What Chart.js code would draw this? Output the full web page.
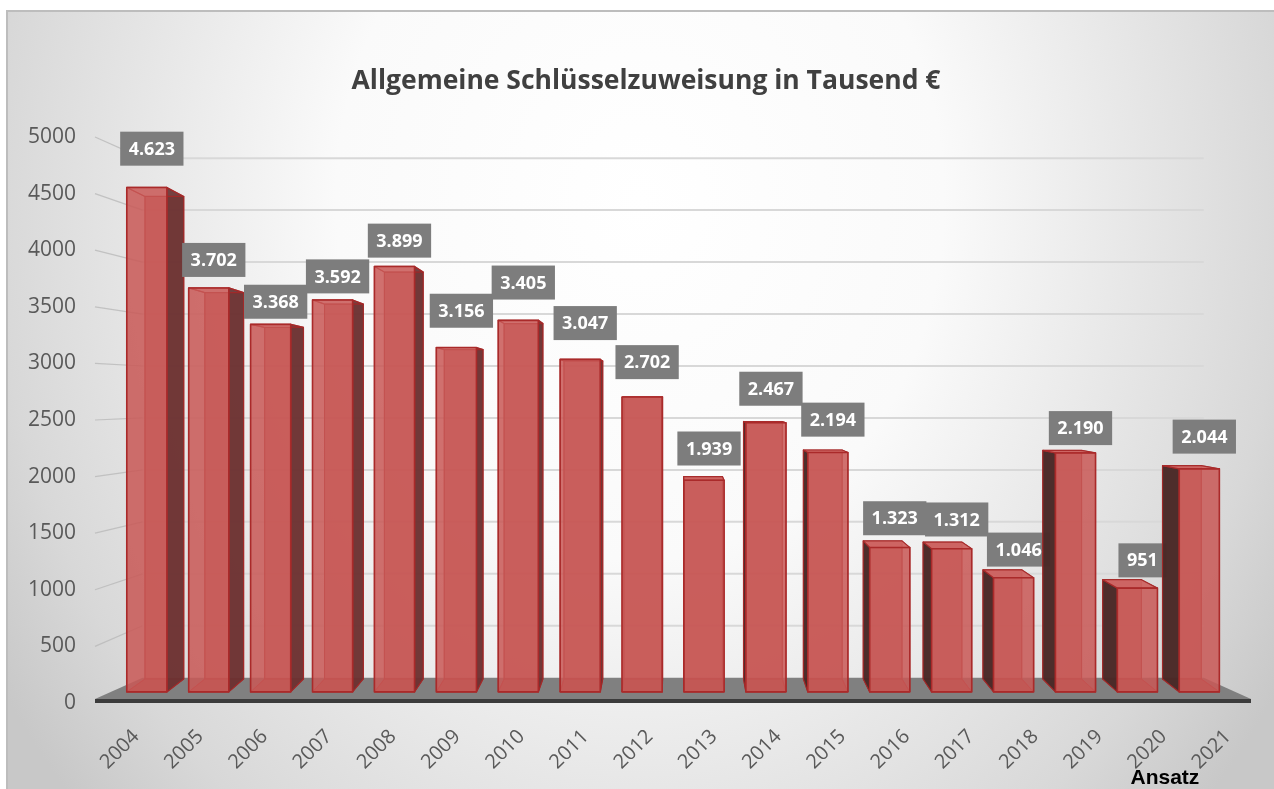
<!DOCTYPE html>
<html><head><meta charset="utf-8">
<script src="https://cdn.jsdelivr.net/npm/chart.js@4.4.1/dist/chart.umd.min.js"></script>
<style>html,body{margin:0;padding:0;background:#fff;}#wrap{width:1274px;height:789px;}</style>
</head><body><div id="wrap"><canvas id="c" width="1274" height="789"></canvas></div>
<script>
// ---- data ----
const years = ['2004','2005','2006','2007','2008','2009','2010','2011','2012','2013','2014','2015','2016','2017','2018','2019','2020','2021'];
const values = [4623,3702,3368,3592,3899,3156,3405,3047,2702,1939,2467,2194,1323,1312,1046,2190,951,2044];
const yMin = 0, yMax = 5000, yStep = 500;
const titleText = 'Allgemeine Schlüsselzuweisung in Tausend €';
const noteText = 'Ansatz';
const noteYear = '2021';

// ---- styling / projection ----
const labelNudge = {'2004':4,'2005':11,'2006':15,'2007':15,'2008':14,'2019':8};
const VX = 675, VY = 395, SF = 0.036, SBX = 0.068, SBY = 0.078, SW = 0.082;
function P(x, y, sx, sy) { return [x + (VX - x) * sx, y + (VY - y) * sy]; }
function poly(ctx, pts, fill, stroke, lw) {
  ctx.beginPath(); ctx.moveTo(pts[0][0], pts[0][1]);
  for (let i = 1; i < pts.length; i++) ctx.lineTo(pts[i][0], pts[i][1]);
  ctx.closePath();
  if (fill) { ctx.fillStyle = fill; ctx.fill(); }
  if (stroke) { ctx.strokeStyle = stroke; ctx.lineWidth = lw || 1; ctx.stroke(); }
}
function fmt(v) { const s = String(v); return s.length > 3 ? s.slice(0, -3) + '.' + s.slice(-3) : s; }

const scene = {
  id: 'scene',
  beforeDraw(chart) {
    const { ctx, width, height } = chart;
    ctx.save();
    ctx.fillStyle = '#fff'; ctx.fillRect(0, 0, width, height);
    ctx.save();
    ctx.beginPath(); ctx.rect(7, 11, width - 7, height - 11); ctx.clip();
    ctx.translate(640, 200); ctx.scale(760 / 900, 1);
    const g = ctx.createRadialGradient(0, 0, 0, 0, 0, 900);
    g.addColorStop(0, '#ffffff'); g.addColorStop(0.4, '#fafafa');
    g.addColorStop(0.85, '#d8d8d8'); g.addColorStop(1, '#c8c8c8');
    ctx.fillStyle = g; ctx.fillRect(-2000, -2000, 4000, 4000);
    ctx.restore();
    ctx.strokeStyle = '#bdbdbd'; ctx.lineWidth = 2;
    ctx.beginPath(); ctx.moveTo(7, height); ctx.lineTo(7, 11); ctx.lineTo(width, 11); ctx.stroke();
    // title
    ctx.font = 'bold 26.5px "Open Sans"';
    ctx.fillStyle = '#404040'; ctx.textAlign = 'center'; ctx.textBaseline = 'middle';
    ctx.fillText(titleText, 646, 81);
    ctx.restore();
  },
  beforeDatasetsDraw(chart) {
    const { ctx, chartArea: a, scales: { y } } = chart;
    ctx.save();
    y.ticks.forEach(t => {
      if (t.value === 0) return;
      const yy = y.getPixelForValue(t.value);
      const bl = P(a.left, yy, SW, SW), br = P(a.right, yy, SW, SW);
      ctx.strokeStyle = '#d8d8d8'; ctx.lineWidth = 2;
      ctx.beginPath(); ctx.moveTo(bl[0], bl[1]); ctx.lineTo(br[0], br[1]); ctx.stroke();
      ctx.strokeStyle = 'rgba(185,185,185,0.8)'; ctx.lineWidth = 1.2;
      ctx.beginPath(); ctx.moveTo(a.left, yy); ctx.lineTo(bl[0], bl[1]); ctx.stroke();
    });
    const y0 = y.getPixelForValue(0);
    const BL = P(a.left, y0, SW, SW), BR = P(a.right, y0, SW, SW);
    poly(ctx, [[a.left, y0 - 4], [a.right, y0 - 4], BR, BL], '#808080');
    poly(ctx, [[a.left, y0 - 4], [a.right, y0 - 4], [a.right, y0], [a.left, y0]], '#3c3c3c');
    ctx.restore();
  },
  afterDatasetsDraw(chart) {
    const { ctx, scales: { x } } = chart;
    const meta = chart.getDatasetMeta(0);
    ctx.save();
    ctx.lineJoin = 'round';
    meta.data.forEach((el, i) => {
      const p = el.getProps(['x', 'y', 'base', 'width'], true);
      const L = p.x - p.width / 2, R = p.x + p.width / 2, T = p.y, B = p.base;
      const fTL = P(L, T, SF, SF), fTR = P(R, T, SF, SF), fBR = P(R, B, SF, SF), fBL = P(L, B, SF, SF);
      const bTL = P(L, T, SBX, SBY), bTR = P(R, T, SBX, SBY), bBR = P(R, B, SBX, SBY), bBL = P(L, B, SBX, SBY);
      const edge = 'rgba(165,40,40,0.9)';
      poly(ctx, [bTL, bTR, bBR, bBL], 'rgba(185,75,72,0.7)', edge, 1);
      poly(ctx, [fBL, fBR, bBR, bBL], 'rgba(170,65,62,0.7)', edge, 1);
      const leftOfV = p.x < VX;
      const visSide = leftOfV ? [fTR, bTR, bBR, fBR] : [fTL, bTL, bBL, fBL];
      const hidSide = leftOfV ? [fTL, bTL, bBL, fBL] : [fTR, bTR, bBR, fBR];
      poly(ctx, hidSide, null, edge, 1);
      poly(ctx, visSide, leftOfV ? 'rgba(105,50,50,0.92)' : 'rgba(70,40,38,0.94)', edge, 1.2);
      const topVisible = bTL[1] < fTL[1];
      poly(ctx, [fTL, fTR, bTR, bTL], topVisible ? 'rgba(205,100,98,0.95)' : null, edge, 1.2);
      poly(ctx, [fTL, fTR, fBR, fBL], 'rgba(200,88,86,0.86)', 'rgb(170,42,42)', 1.6);

      const txt = fmt(values[i]);
      ctx.font = 'bold 18px "Open Sans"';
      const tw = ctx.measureText(txt).width;
      const bw = tw + 17, bh = 34;
      const cx = (fTL[0] + fTR[0]) / 2 + 5;
      const cy = T - 35 + (labelNudge[years[i]] || 0);
      ctx.fillStyle = '#7d7d7d';
      ctx.fillRect(cx - bw / 2, cy - bh / 2, bw, bh);
      ctx.fillStyle = '#ffffff'; ctx.textAlign = 'center'; ctx.textBaseline = 'middle';
      ctx.fillText(txt, cx, cy + 1);
    });
    const idx = years.indexOf(noteYear);
    ctx.font = 'bold 21px "Liberation Sans"';
    ctx.fillStyle = '#000'; ctx.textAlign = 'center'; ctx.textBaseline = 'alphabetic';
    ctx.fillText(noteText, x.getPixelForTick(idx) - 54, 784);
    ctx.restore();
  }
};

new Chart(document.getElementById('c'), {
  type: 'bar',
  data: { labels: years, datasets: [{ data: values, backgroundColor: 'rgba(0,0,0,0)', borderWidth: 0,
    barPercentage: 0.8, categoryPercentage: 0.81 }] },
  options: {
    responsive: false, animation: false, devicePixelRatio: 1,
    layout: { padding: { left: 0, right: 23, top: 137, bottom: 0 } },
    plugins: { legend: { display: false }, tooltip: { enabled: false }, title: { display: false } },
    scales: {
      y: { min: yMin, max: yMax, afterFit(s) { s.width = 95; },
        ticks: { stepSize: yStep, color: '#595959', padding: 19, font: { family: 'Open Sans', size: 21 },
          callback: (v) => String(v) },
        grid: { display: false, drawTicks: false }, border: { display: false } },
      x: { afterFit(s) { s.height = 86; },
        ticks: { minRotation: 45, maxRotation: 45, color: '#595959', padding: 22, labelOffset: 9,
          font: { family: 'Open Sans', size: 20 } },
        grid: { display: false, drawTicks: false }, border: { display: false } }
    }
  },
  plugins: [scene]
});
</script></body></html>
